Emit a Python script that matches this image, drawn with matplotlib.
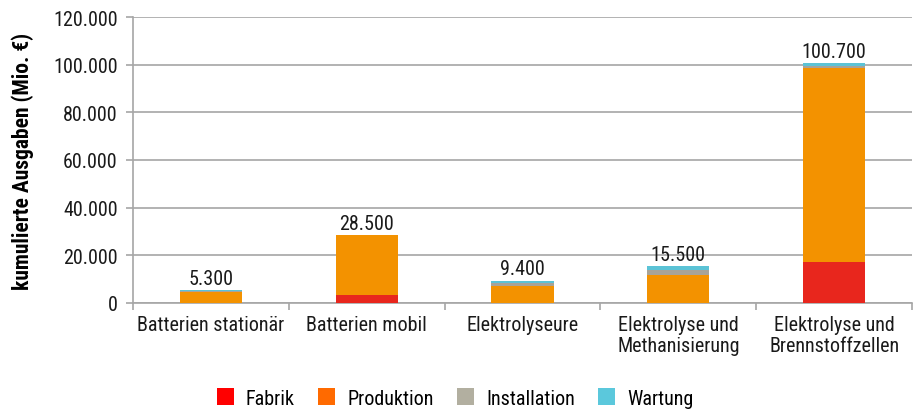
import matplotlib
matplotlib.use("Agg")
import matplotlib.pyplot as plt
from matplotlib.patches import Patch
from matplotlib.ticker import FuncFormatter, FixedLocator
from matplotlib import font_manager

# pick a condensed font if one is installed
names = sorted({(f.name, f.stretch) for f in font_manager.fontManager.ttflist}, key=str)
fam = ['DejaVu Sans']
stretch = 'normal'
for cand in ['Liberation Sans Narrow', 'Roboto Condensed', 'Open Sans Condensed', 'Noto Sans Condensed']:
    if any(n == cand for n, s in names):
        fam = [cand, 'DejaVu Sans']
        break
else:
    if any(n == 'DejaVu Sans' and s != 'normal' for n, s in names):
        stretch = 'condensed'
plt.rcParams['font.family'] = fam
plt.rcParams['font.stretch'] = stretch

categories = ["Batterien stationär", "Batterien mobil", "Elektrolyseure",
              "Elektrolyse und\nMethanisierung", "Elektrolyse und\nBrennstoffzellen"]
fabrik = [0, 3300, 0, 0, 17300]
produktion = [4700, 25200, 7000, 11900, 81100]
installation = [400, 0, 1400, 2000, 1100]
wartung = [200, 0, 1000, 1600, 1200]
totals = [5300, 28500, 9400, 15500, 100700]
series_names = ["Fabrik", "Produktion", "Installation", "Wartung"]
bar_colors = ["#E8261D", "#F39200", "#A8A398", "#5BC3D6"]
legend_colors = ["#FF0000", "#FF6A00", "#B2AFA0", "#5BC8DC"]

FS = 14.5
fig = plt.figure(figsize=(9.13, 4.10), dpi=100)
ax = fig.add_axes([133/913, 106/410, (912-133)/913, (304-18)/410])

x = list(range(len(categories)))
bottom = [0]*len(categories)
for vals, c in zip([fabrik, produktion, installation, wartung], bar_colors):
    ax.bar(x, vals, width=0.4, bottom=bottom, color=c, zorder=3)
    bottom = [b+v for b, v in zip(bottom, vals)]

def fmt(v):
    return f"{int(v):,}".replace(",", ".")

for xi, t in zip(x, totals):
    ax.text(xi, t + 1000, fmt(t), ha='center', va='bottom', fontsize=FS, color='#1a1a1a')

ax.set_ylim(0, 120000)
ax.set_xlim(-0.5, len(categories)-0.5)
ax.set_yticks(range(0, 120001, 20000))
ax.yaxis.set_major_formatter(FuncFormatter(lambda v, p: fmt(v)))
ax.set_xticks(x)
ax.set_xticklabels(categories, fontsize=FS, color='#1a1a1a', linespacing=1.1)
ax.xaxis.set_minor_locator(FixedLocator([i - 0.5 for i in range(len(categories)+1)]))
ax.tick_params(axis='x', which='major', length=0, pad=9)
ax.tick_params(axis='x', which='minor', length=5, color='#A6A6A6', width=1.2)
ax.tick_params(axis='y', length=5, color='#A6A6A6', width=1.2, labelsize=FS, labelcolor='#1a1a1a', pad=6)
ax.grid(axis='y', color='#A6A6A6', linewidth=1.2, zorder=0)
for s in ['top', 'right']:
    ax.spines[s].set_visible(False)
for s in ['left', 'bottom']:
    ax.spines[s].set_color('#A6A6A6')
    ax.spines[s].set_linewidth(1.2)
ax.set_ylabel("kumulierte Ausgaben (Mio. €)", fontsize=15.5, fontweight='bold', labelpad=14)

handles = [Patch(facecolor=c, label=n) for c, n in zip(legend_colors, series_names)]
fig.legend(handles=handles, loc='center', bbox_to_anchor=(455/913, 1 - 399/410), ncol=4,
           frameon=False, fontsize=FS, handlelength=0.85, handleheight=0.85,
           columnspacing=1.15, handletextpad=0.6, borderpad=0, borderaxespad=0)

fig.savefig("out.png", dpi=100)
